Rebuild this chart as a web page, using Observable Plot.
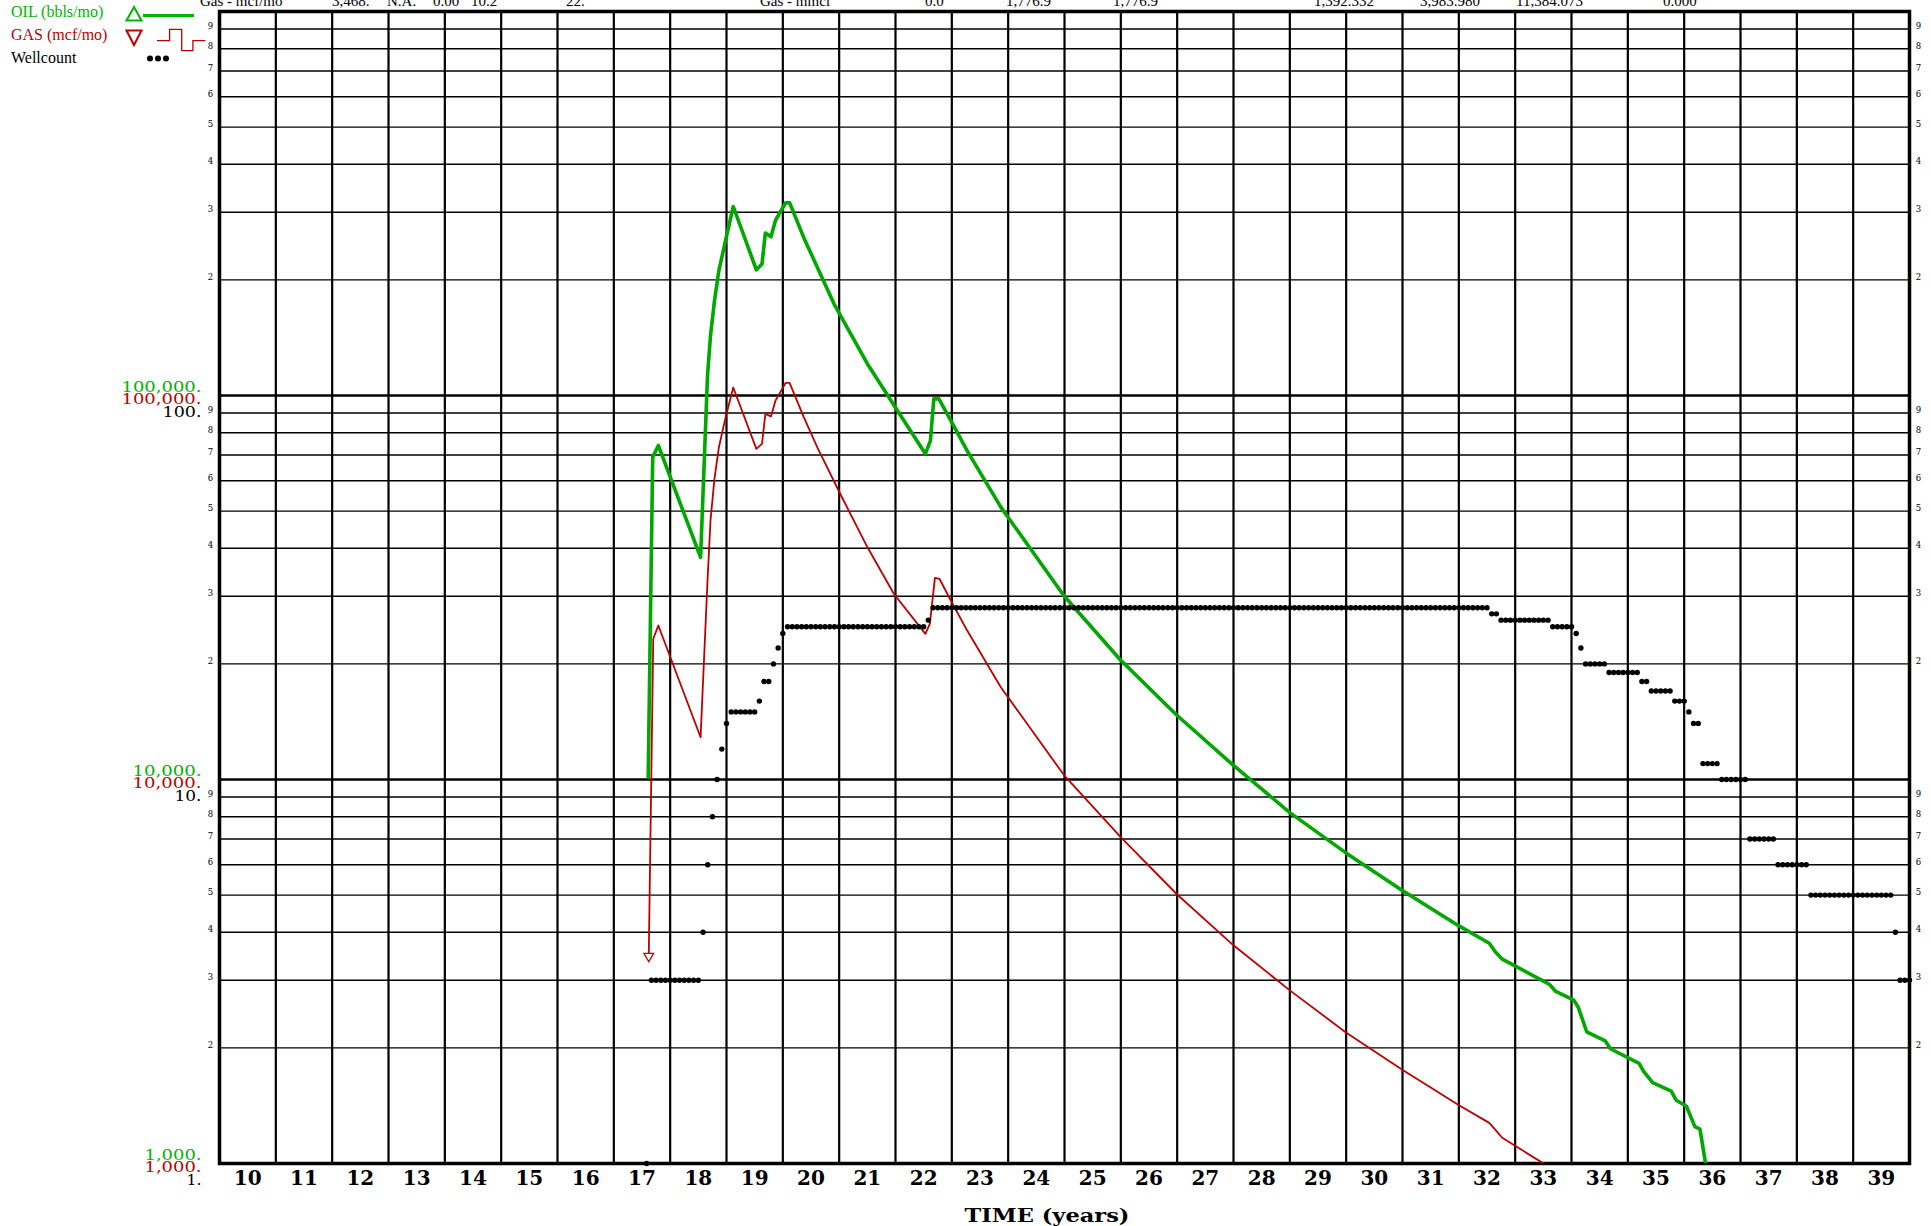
<!DOCTYPE html>
<html><head><meta charset="utf-8">
<script src="https://cdn.jsdelivr.net/npm/d3@7"></script>
<script src="https://cdn.jsdelivr.net/npm/@observablehq/plot@0.6"></script>
<style>
html,body{margin:0;padding:0;background:#fff;}
body{width:1931px;height:1226px;overflow:hidden;position:relative;}
#chart{position:absolute;left:0;top:0;}
#overlay{position:absolute;left:0;top:0;pointer-events:none;}
</style></head><body>
<div id="chart"></div>
<svg id="overlay" width="1931" height="1226"></svg>
<script>
// ---------- data ----------
const oilT = [17.61,17.69,17.79,18.54,18.663,18.716,18.787,18.864,18.983,19.12,19.53,19.63,19.69,19.79,19.87,20.05,20.12,20.37,20.91,21.50,22.09,22.53,22.62,22.68,22.77,22.98,23.27,23.87,24.99,25.99,26.99,28.00,29.00,29.99,30.99,32.01,32.54,32.65,32.77,33.61,33.72,34.04,34.12,34.27,34.60,34.69,35.20,35.28,35.44,35.77,35.86,36.04,36.19,36.28,36.38,36.42];
const oilV = [10140,69000,74100,37900,112700,143200,176800,211300,253300,310600,212400,220000,265000,259000,286000,317600,317600,258000,173000,121000,88700,70500,76300,98000,98000,86100,71870,51200,30100,20500,14720,10880,8200,6450,5150,4150,3745,3555,3406,2927,2805,2663,2551,2203,2086,1990,1822,1737,1625,1543,1461,1410,1247,1229,1000,900];

const gasT = [17.62,17.70,17.79,18.54,18.663,18.716,18.787,18.864,18.983,19.12,19.53,19.63,19.69,19.79,19.87,20.05,20.12,20.37,20.61,21.02,21.50,21.97,22.53,22.61,22.70,22.78,22.98,23.27,23.87,24.99,25.99,26.99,28.00,29.00,29.99,30.99,32.01,32.54,32.65,32.77,33.60];
const gasV = [3468,23250,25180,12880,32980,47260,60800,73200,87600,104900,72600,74800,89600,88200,97000,107900,107900,88000,73350,55400,40300,30450,23950,25430,33520,33320,29300,24460,17390,10270,7100,5033,3700,2824,2198,1756,1416,1276,1223,1167,980];

// wellcount: runs of equal monthly values, months counted from start of year 17
const wellBaseYear = 17;
const wellRunStartMonth = [7,8,19,20,21,22,23,24,25,31,32,34,35,36,37,67,68,187,189,200,205,206,207,212,219,221,226,229,230,232,236,242,248,255,273,274];
const wellRunLength     = [1,11,1,1,1,1,1,1,6,1,2,1,1,1,30,1,119,2,11,5,1,1,5,7,2,5,3,1,2,4,6,6,7,18,1,3];
const wellRunValue      = [1,3,4,6,8,10,12,14,15,16,18,20,22,24,25,26,28,27,26,25,24,22,20,19,18,17,16,15,14,11,10,7,6,5,4,3];

const xTickLabels = [10,11,12,13,14,15,16,17,18,19,20,21,22,23,24,25,26,27,28,29,30,31,32,33,34,35,36,37,38,39];
const gridYears = [10,11,12,13,14,15,16,17,18,19,20,21,22,23,24,25,26,27,28,29,30,31,32,33,34,35,36,37,38,39,40];
const gridMajor = [1000,10000,100000,1000000];
const gridMinor = [2000,3000,4000,5000,6000,7000,8000,9000,20000,30000,40000,50000,60000,70000,80000,90000,200000,300000,400000,500000,600000,700000,800000,900000];
const minorDigits = ["2","3","4","5","6","7","8","9","2","3","4","5","6","7","8","9","2","3","4","5","6","7","8","9"];
const decadeValues = [1000,10000,100000];
const oilDecadeLabels = ["1,000.","10,000.","100,000."];
const gasDecadeLabels = ["1,000.","10,000.","100,000."];
const wellDecadeLabels = ["1.","10.","100."];

const headerTexts = ["Gas - mcf/mo","3,468.","N.A.","0.00","10.2","22.","Gas - mmcf","0.0","1,776.9","1,776.9","1,392.332","3,983.980","11,384.073","0.000"];
const headerX = [200,332,387,433,471,566,760,925,1006,1113,1314,1420,1516,1663];

// ---------- build tables ----------
const oil = oilT.map((t,i)=>({t, v:oilV[i]}));
const gas = gasT.map((t,i)=>({t, v:gasV[i]}));
const well = [];
wellRunStartMonth.forEach((m0,i)=>{
  for(let k=0;k<wellRunLength[i];k++){
    const m=m0+k;
    well.push({t: wellBaseYear + m/12, w: wellRunValue[i]});
  }
});
const decades = decadeValues.map((v,i)=>({v, oil:oilDecadeLabels[i], gas:gasDecadeLabels[i], well:wellDecadeLabels[i]}));
const minors = gridMinor.map((v,i)=>({v, d:minorDigits[i]}));

const oilColor = "#00a800", gasColor = "#c00000";
const oilText = "#00b400", gasText = "#c00000";

const chart = Plot.plot({
  width:1931, height:1226,
  marginLeft:219, marginRight:22, marginTop:11, marginBottom:63,
  style:{background:"white", overflow:"visible"},
  x:{domain:[10,40], axis:null},
  y:{type:"log", domain:[1000,1000000], axis:null},
  marks:[
    Plot.ruleY(gridMinor, {stroke:"black", strokeWidth:1.4}),
    Plot.ruleY(gridMajor, {stroke:"black", strokeWidth:2.6}),
    Plot.ruleX(gridYears, {stroke:"black", strokeWidth:2.2}),
    Plot.frame({stroke:"black", strokeWidth:3.5}),
    Plot.line(oil, {x:"t", y:"v", stroke:oilColor, strokeWidth:3.6, clip:true}),
    Plot.line(gas, {x:"t", y:"v", stroke:gasColor, strokeWidth:1.8, clip:true}),
    Plot.dot([gas[0]], {x:"t", y:"v", symbol:"triangle", rotate:180, r:3.6, stroke:gasColor, fill:"white", strokeWidth:1.3}),
    Plot.dot(well, {x:"t", y:d=>d.w*1000, r:2.7, fill:"black", stroke:"none"}),
    // x tick labels
    Plot.text(xTickLabels, {x:d=>d+0.5, y:()=>1000, text:d=>String(d), dy:21, lineAnchor:"bottom",
      fontFamily:"DejaVu Serif", fontWeight:"bold", fontSize:20, fill:"black"}),
    // left decade labels
    Plot.text(decades, {x:()=>10, y:"v", text:"oil", dx:-18, dy:-4, textAnchor:"end", lineAnchor:"bottom",
      fontFamily:"DejaVu Serif", fontSize:15, fill:oilText, className:"ylab"}),
    Plot.text(decades, {x:()=>10, y:"v", text:"gas", dx:-18, dy:8, textAnchor:"end", lineAnchor:"bottom",
      fontFamily:"DejaVu Serif", fontSize:15, fill:gasText, className:"ylab"}),
    Plot.text(decades, {x:()=>10, y:"v", text:"well", dx:-18, dy:21, textAnchor:"end", lineAnchor:"bottom",
      fontFamily:"DejaVu Serif", fontSize:15, fill:"black", className:"ylab"}),
    // minor digit labels, left and right
    Plot.text(minors, {x:()=>10, y:"v", text:"d", dx:-9, dy:0, textAnchor:"middle", lineAnchor:"bottom",
      fontFamily:"DejaVu Serif", fontSize:8.5, fill:"black"}),
    Plot.text(minors, {x:()=>40, y:"v", text:"d", dx:9, dy:0, textAnchor:"middle", lineAnchor:"bottom",
      fontFamily:"DejaVu Serif", fontSize:8.5, fill:"black"})
  ]
});
document.getElementById("chart").appendChild(chart);

// stretch decade labels horizontally to the reference widths
const labelWidths = {"100,000.":80,"10,000.":69,"1,000.":57,"100.":39,"10.":27,"1.":15};
d3.select(chart).selectAll("g.ylab text").each(function(){
  const s=this.textContent; if(labelWidths[s]){ this.setAttribute("textLength", labelWidths[s]); this.setAttribute("lengthAdjust","spacingAndGlyphs"); }
});

// ---------- overlay: legend, header, axis title ----------
const ov = d3.select("#overlay");
const serif = "Liberation Serif, Times New Roman, serif";
ov.append("text").attr("x",11).attr("y",17).attr("fill",oilText).attr("font-family",serif).attr("font-size",16).text("OIL (bbls/mo)");
ov.append("text").attr("x",11).attr("y",39.5).attr("fill",gasText).attr("font-family",serif).attr("font-size",16).text("GAS (mcf/mo)");
ov.append("text").attr("x",11).attr("y",63).attr("fill","black").attr("font-family",serif).attr("font-size",16).text("Wellcount");
// oil symbol
ov.append("path").attr("d","M126.5,20.5 L134,7 L141.5,20.5 Z").attr("fill","none").attr("stroke",oilText).attr("stroke-width",2);
ov.append("line").attr("x1",143).attr("x2",194).attr("y1",15.5).attr("y2",15.5).attr("stroke",oilText).attr("stroke-width",3);
// gas symbol
ov.append("path").attr("d","M126.5,30.5 L141.5,30.5 L134,45 Z").attr("fill","none").attr("stroke",gasText).attr("stroke-width",2);
ov.append("path").attr("d","M157,40.7 H169.6 V29.3 H181.7 V50.7 H192.9 V40.7 H205.4").attr("fill","none").attr("stroke",gasText).attr("stroke-width",1.3);
// wellcount symbol
[150,158,166].forEach(x=>ov.append("circle").attr("cx",x).attr("cy",58.5).attr("r",3).attr("fill","black"));
// header (cut off at top)
headerTexts.forEach((s,i)=>ov.append("text").attr("x",headerX[i]).attr("y",6).attr("fill","black").attr("font-family",serif).attr("font-size",15).text(s));
// axis title
ov.append("text").attr("x",1047).attr("y",1222).attr("text-anchor","middle").attr("fill","black")
  .attr("font-family","DejaVu Serif").attr("font-weight","bold").attr("font-size",19)
  .attr("textLength",165).attr("lengthAdjust","spacingAndGlyphs").text("TIME (years)");
</script>
</body></html>
